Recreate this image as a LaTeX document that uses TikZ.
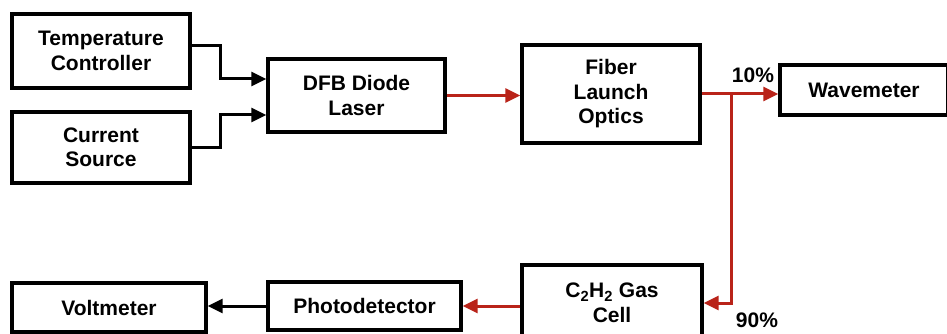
\documentclass[tikz,border=0pt]{standalone}
\usepackage{fontspec}
\setmainfont{Liberation Sans}
\usetikzlibrary{arrows.meta}
\definecolor{fiber}{RGB}{185,35,25}
\begin{document}
\begin{tikzpicture}[x=1pt,y=-1pt,
  blk/.style={draw, line width=3.4pt, inner sep=0pt, fill=white,
    font=\bfseries\fontsize{21}{24.5}\selectfont, align=center},
  wire/.style={line width=3pt, -{Triangle[length=15pt,width=14pt]}},
  optic/.style={wire, draw=fiber},
  lbl/.style={font=\bfseries\fontsize{21}{25}\selectfont, inner sep=0pt}]
\useasboundingbox (0,0) rectangle (947,334);
\clip (0,0) rectangle (947,334);
\fill[white] (0,0) rectangle (947,334);

\node[blk, minimum width=178pt, minimum height=74pt] (TC) at (101,51) {Temperature\\Controller};
\node[blk, minimum width=178pt, minimum height=71pt] (CS) at (101,147.5) {Current\\Source};
\node[blk, minimum width=177pt, minimum height=73pt] (DFB) at (356.5,95.5) {DFB Diode\\Laser};
\node[blk, minimum width=178pt, minimum height=98pt] (FLO) at (611,94) {Fiber\\Launch\\Optics};
\node[blk, minimum width=168pt, minimum height=50pt] (WM) at (864,90) {Wavemeter};
\node[blk, minimum width=180pt, minimum height=76pt] (GC) at (612,303) {C\textsubscript{2}H\textsubscript{2} Gas\\Cell};
\node[blk, minimum width=193pt, minimum height=48pt] (PD) at (364.5,306) {Photodetector};
\node[blk, minimum width=194pt, minimum height=49pt] (VM) at (109,307.5) {Voltmeter};

\coordinate (j1) at (220,79);
\coordinate (j2) at (220,115);
\coordinate (sp) at (731,94);

\draw[wire] ([yshift=5pt]TC.east) -| (j1) -- (DFB.west |- j1);
\draw[wire] (CS.east) -| (j2) -- (DFB.west |- j2);
\draw[optic] (DFB.east) -- (FLO.west |- DFB.east);
\draw[optic] (FLO.east) -- (FLO.east -| WM.west);
\draw[optic] (sp) |- (GC.east);
\draw[optic] (GC.west |- PD.east) -- (PD.east);
\draw[wire] (PD.west) -- (VM.east |- PD.west);

\node[lbl] (p10) at (753,75) {10\%};
\node[lbl] (p90) at (757,320) {90\%};
\end{tikzpicture}
\end{document}
